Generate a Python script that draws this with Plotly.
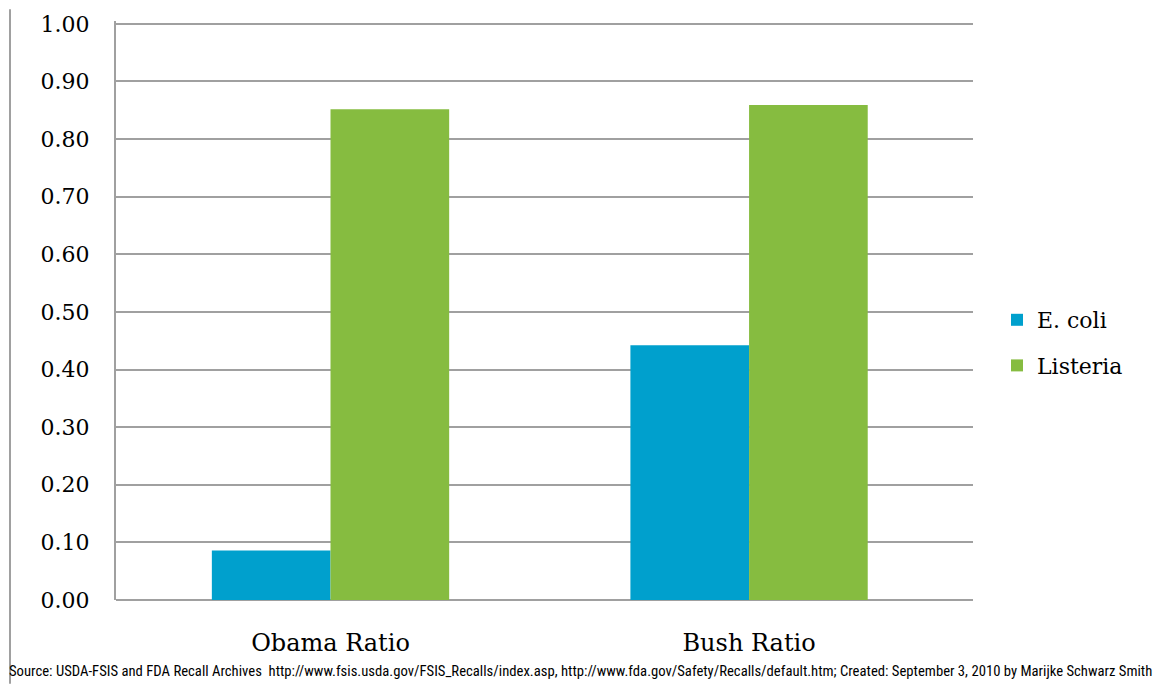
import plotly.graph_objects as go

categories = ["Obama Ratio", "Bush Ratio"]
ecoli = [0.086, 0.442]
listeria = [0.852, 0.859]
y_ticks = [0.0, 0.1, 0.2, 0.3, 0.4, 0.5, 0.6, 0.7, 0.8, 0.9, 1.0]
y_tick_labels = ["0.00", "0.10", "0.20", "0.30", "0.40", "0.50", "0.60", "0.70", "0.80", "0.90", "1.00"]
source_text = ("Source: USDA-FSIS and FDA Recall Archives  http://www.fsis.usda.gov/FSIS_Recalls/index.asp, "
               "http://www.fda.gov/Safety/Recalls/default.htm; Created: September 3, 2010 by Marijke Schwarz Smith")

serif = "DejaVu Serif, Liberation Serif, serif"
narrow = "Liberation Sans Narrow, Arial Narrow, Roboto Condensed, sans-serif"

fig = go.Figure()
fig.add_trace(go.Bar(x=categories, y=ecoli, name="E. coli", legendgroup="a",
                     marker=dict(color="#00A0CD", line=dict(width=0))))
fig.add_trace(go.Bar(x=categories, y=listeria, name="Listeria", legendgroup="b",
                     marker=dict(color="#86BC40", line=dict(width=0))))

W, H = 1156, 685
L, R, T, B = 116, 183, 12, 85
plot_w = W - L - R
plot_h = H - T - B

fig.update_layout(
    width=W, height=H,
    margin=dict(l=L, r=R, t=T, b=B, pad=0),
    paper_bgcolor="white", plot_bgcolor="white",
    barmode="group", bargap=0.433, bargroupgap=0,
    font=dict(family=serif, color="#000000", size=22),
    showlegend=True,
    legend=dict(x=(997 - L) / plot_w, xanchor="left", xref="paper", y=(600 - 339) / plot_h, yanchor="middle",
                font=dict(family=serif, size=22, color="#000"),
                itemwidth=30, tracegroupgap=14, traceorder="grouped", bgcolor="rgba(0,0,0,0)"),
    xaxis=dict(type="category", range=[-0.5125, 1.535], showgrid=False, showline=False,
               ticks="", tickfont=dict(family=serif, size=24), zeroline=False, ticklabelstandoff=26),
    yaxis=dict(range=[0, 1.005], tickvals=y_ticks, ticktext=y_tick_labels,
               showgrid=True, gridcolor="#A0A0A0", gridwidth=2,
               showline=True, linecolor="#A0A0A0", linewidth=2,
               zeroline=True, zerolinecolor="#A0A0A0", zerolinewidth=2,
               ticks="", ticklabelstandoff=20, tickfont=dict(family=serif, size=22)),
)

# thin gray vertical border at the far left of the image
fig.add_shape(type="line", xref="paper", yref="paper",
              x0=(10 - L) / plot_w, x1=(10 - L) / plot_w,
              y0=(H - B - H) / plot_h, y1=(H - B) / plot_h,
              line=dict(color="#A0A0A0", width=2))

fig.add_annotation(text=source_text, xref="paper", yref="paper",
                   x=(7 - L) / plot_w, xanchor="left",
                   y=(H - B - 672) / plot_h, yanchor="middle",
                   showarrow=False, font=dict(family=narrow, size=14.7, color="#000"))

fig.write_html("out.html", config={"displayModeBar": False},
               post_script="document.body.style.margin='0';document.body.style.overflow='hidden';")
